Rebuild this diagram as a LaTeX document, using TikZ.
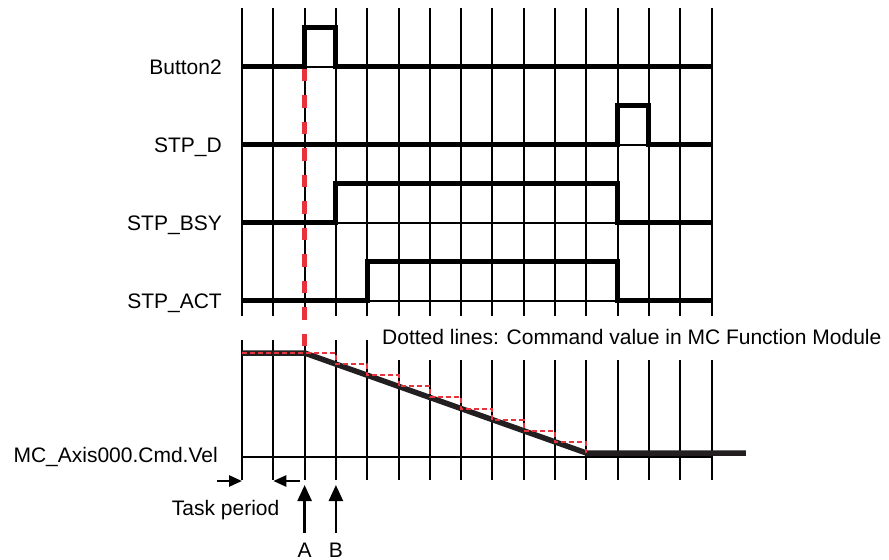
\documentclass[tikz,border=0pt]{standalone}
\usepackage{fontspec}
\setmainfont{Liberation Sans}
\usepackage{xcolor}
\usepackage{tikz}
\usetikzlibrary{arrows.meta}
\definecolor{cmdc}{HTML}{E8323C}
\definecolor{velc}{HTML}{231F20}
\tikzset{
  gridln/.style={line width=2pt},
  sigln/.style={line width=5pt, line join=miter},
  cmdln/.style={cmdc, line width=2pt, dash pattern=on 5pt off 3pt},
  trigln/.style={cmdc, line width=5pt, dash pattern=on 12.5pt off 14pt},
  markarr/.style={line width=2.5pt, -{Triangle[length=16pt,width=14pt]}},
  periodarr/.style={line width=2.5pt, -{Triangle[length=13pt,width=11pt]}},
  lbl/.style={inner sep=0pt, anchor=base east},
}
% one signal row: low level, label, rising column, falling column, name
\newcommand{\sigrow}[5]{%
  \node[lbl] (#5) at (-0.64,#1+7.5) {#2};
  \draw[gridln] (0,#1) -- (15,#1);
  \draw[sigln] (0,#1) -- (#3,#1) -- (#3,#1-39) -- (#4,#1-39) -- (#4,#1) -- (15,#1);}

\begin{document}
\begin{tikzpicture}[x=31.3pt, y=-1pt, font=\fontsize{21}{25}\selectfont]
  \useasboundingbox (-7.732,0) rectangle (20.671,560);
  % time grid
  \foreach \k in {0,...,15} \draw[gridln] (\k,8) -- (\k,316);
  \foreach \k in {0,...,4} \draw[gridln] (\k,340) -- (\k,480);
  \foreach \k in {5,...,15} \draw[gridln] (\k,360) -- (\k,480);
  \coordinate (trig) at (2,68.5);
  \coordinate (vstart) at (2,353);
  \draw[trigln] (trig) -- (vstart);
  \sigrow{66.7}{Button2}{2}{3}{btn}
  \sigrow{144.5}{STP\_D}{12}{13}{stpd}
  \sigrow{222.7}{STP\_BSY}{3}{12}{bsy}
  \sigrow{300.7}{STP\_ACT}{4}{12}{act}
  % velocity
  \node[lbl] (vel) at (-0.767,462.5) {MC\_Axis000.Cmd.Vel};
  \draw[gridln] (0,457) -- (15,457);
  \draw[velc, line width=5.5pt] (0,353) -- (vstart) -- (11,453) -- (16.1,453);
  \draw[cmdln] (0,353) -- (3,353)
    foreach \k in {3,...,10} { -- (\k,{353+(\k-2)*100/9}) -- (\k+1,{353+(\k-2)*100/9}) }
    -- (11,453);
  \node[inner sep=0pt, anchor=base west] (note) at (4.473,344)
    {Dotted lines: Command value in MC Function Module};
  % task period and markers
  \coordinate (tp0) at (-0.8,481);
  \coordinate (g0) at (0,481);
  \coordinate (tp1) at (1.853,481);
  \coordinate (g1) at (1,481);
  \draw[periodarr] (tp0) -- (g0);
  \draw[periodarr] (tp1) -- (g1);
  \node[inner sep=0pt, anchor=base west] (tp) at (-2.246,515) {Task period};
  \node[inner sep=0pt, anchor=base] (la) at (2,557) {A};
  \node[inner sep=0pt, anchor=base] (lb) at (3,557) {B};
  \coordinate (a0) at (2,533);
  \coordinate (a1) at (2,485);
  \coordinate (b0) at (3,533);
  \coordinate (b1) at (3,485);
  \draw[markarr] (a0) -- (a1);
  \draw[markarr] (b0) -- (b1);
\end{tikzpicture}
\end{document}
